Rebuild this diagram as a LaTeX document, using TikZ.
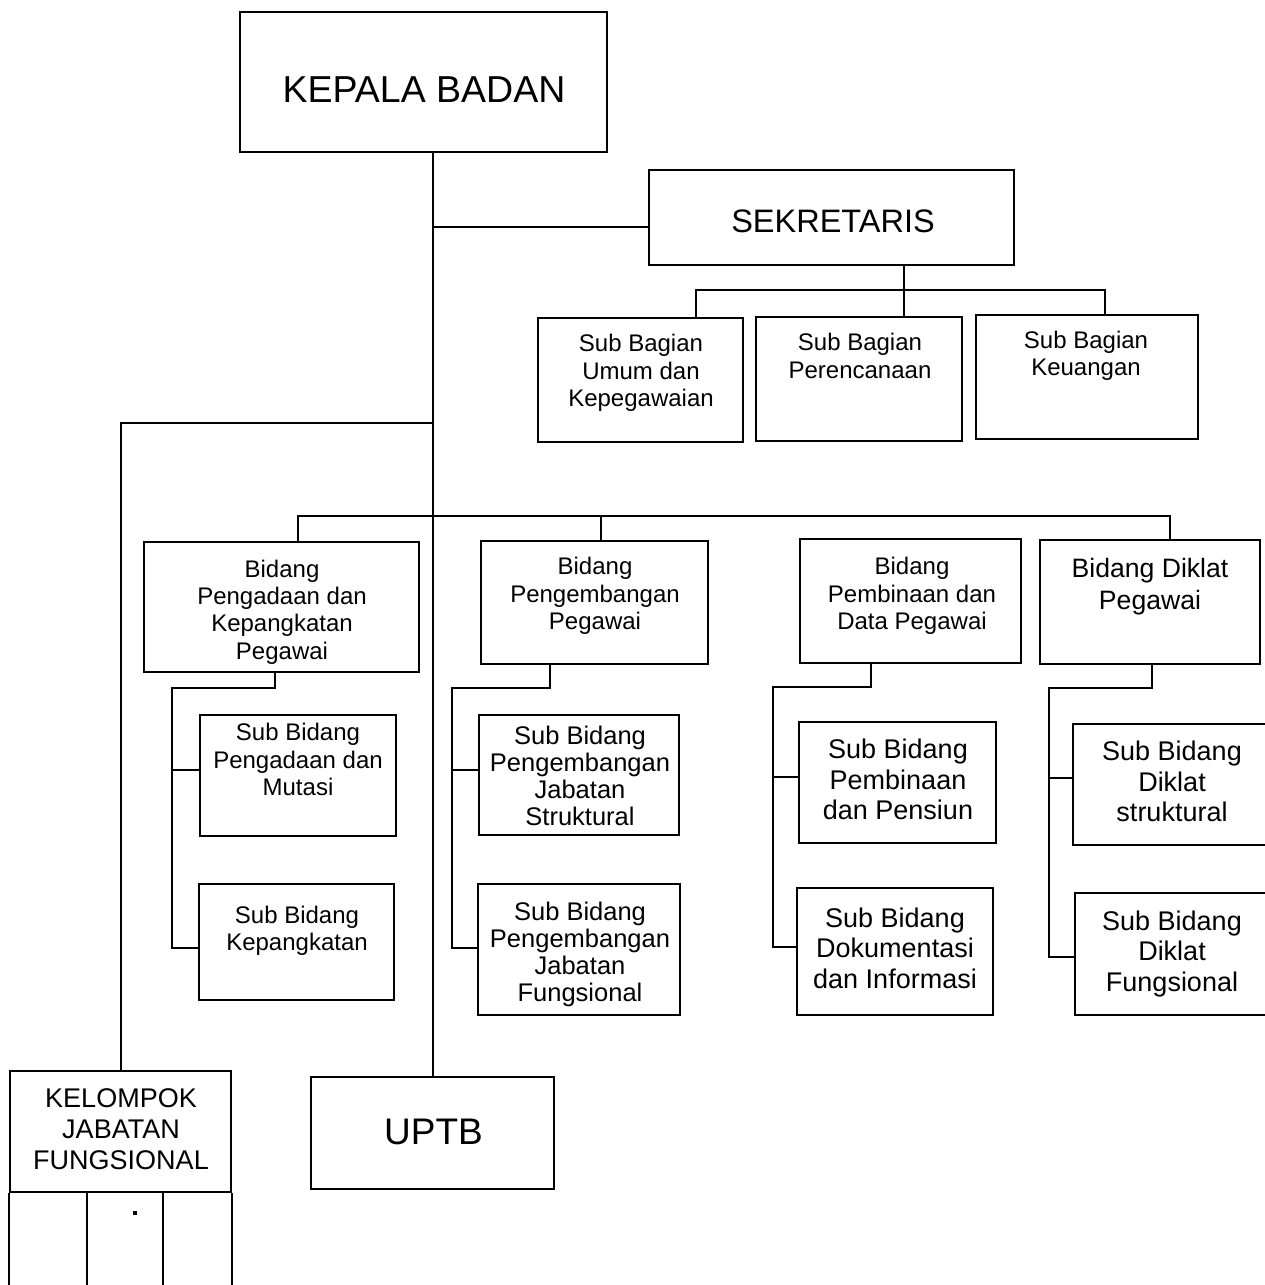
\documentclass[tikz,border=0pt]{standalone}
\usepackage{fontspec}
\setmainfont{Liberation Sans}
\newcommand\fsz[2]{\fontsize{#1}{#2}\selectfont}
\begin{document}
\begin{tikzpicture}[x=1pt,y=-1pt,
  box/.style={draw,line width=2pt,inner sep=0pt},
  conn/.style={line width=2pt},
  lbl/.style={align=center,inner sep=0pt},
  tA/.style={lbl,font=\fsz{24}{27.3}},
  tB/.style={lbl,font=\fsz{25.5}{27}},
  tC/.style={lbl,font=\fsz{27}{30.5}}]
\useasboundingbox (0,0) rectangle (1265,1285);
\clip (0,0) rectangle (1265,1285);
\fill[white] (0,0) rectangle (1265,1285);

% boxes
\node[box,minimum width=367pt,minimum height=140pt] (kb) at (423.5,82) {};
\node[lbl,font=\fsz{37.5}{40}] (kbt) at (424,90) {KEPALA BADAN};
\node[box,minimum width=365pt,minimum height=95pt] (sek) at (831.5,217.5) {};
\node[lbl,font=\fsz{32.5}{35}] (sekt) at (833,221) {SEKRETARIS};

\node[box,minimum width=205pt,minimum height=124pt] (sb1) at (640.5,380) {};
\node[tA] (sb1t) at (641,373) {Sub Bagian\\Umum dan\\Kepegawaian};
\node[box,minimum width=206pt,minimum height=124pt] (sb2) at (859,379) {};
\node[tA] (sb2t) at (860,356) {Sub Bagian\\Perencanaan};
\node[box,minimum width=222pt,minimum height=124pt] (sb3) at (1087,377) {};
\node[tA] (sb3t) at (1086,356) {Sub Bagian\\Keuangan};

\node[box,minimum width=275pt,minimum height=130pt] (b1) at (281.5,607) {};
\node[tA] (b1t) at (282,612) {Bidang\\Pengadaan dan\\Kepangkatan\\Pegawai};
\node[box,minimum width=227pt,minimum height=123pt] (b2) at (594.5,602.5) {};
\node[tA] (b2t) at (595,596) {Bidang\\Pengembangan\\Pegawai};
\node[box,minimum width=221pt,minimum height=124pt] (b3) at (910.5,601) {};
\node[tA] (b3t) at (912,596) {Bidang\\Pembinaan dan\\Data Pegawai};
\node[box,minimum width=220pt,minimum height=124pt] (b4) at (1150,602) {};
\node[lbl,font=\fsz{26.6}{32}] (b4t) at (1150,587) {Bidang Diklat\\Pegawai};

\node[box,minimum width=196pt,minimum height=121pt] (s1) at (298,775.5) {};
\node[tA] (s1t) at (298,759.5) {Sub Bidang\\Pengadaan dan\\Mutasi};
\node[box,minimum width=195pt,minimum height=116pt] (s2) at (296.5,942) {};
\node[tA] (s2t) at (297,931) {Sub Bidang\\Kepangkatan};
\node[box,minimum width=200pt,minimum height=120pt] (s3) at (579,775) {};
\node[tB] (s3t) at (580,775.5) {Sub Bidang\\Pengembangan\\Jabatan\\Struktural};
\node[box,minimum width=202pt,minimum height=131pt] (s4) at (579,949.5) {};
\node[tB] (s4t) at (580,954) {Sub Bidang\\Pengembangan\\Jabatan\\Fungsional};
\node[box,minimum width=197pt,minimum height=121pt] (s5) at (897.5,782.5) {};
\node[tC] (s5t) at (898,779.5) {Sub Bidang\\Pembinaan\\dan Pensiun};
\node[box,minimum width=196pt,minimum height=127pt] (s6) at (895,951.5) {};
\node[tC] (s6t) at (895,948) {Sub Bidang\\Dokumentasi\\dan Informasi};
\node[box,minimum width=202pt,minimum height=121pt] (s7) at (1174,784.5) {};
\node[tC] (s7t) at (1172,781.5) {Sub Bidang\\Diklat\\struktural};
\node[box,minimum width=202pt,minimum height=122pt] (s8) at (1176,954) {};
\node[tC] (s8t) at (1172,954) {Sub Bidang\\Diklat\\Fungsional};

\node[box,minimum width=221pt,minimum height=121pt] (kjf) at (120.5,1131.5) {};
\node[lbl,font=\fsz{27}{31}] (kjft) at (121,1129) {KELOMPOK\\JABATAN\\FUNGSIONAL};
\node[box,minimum width=243pt,minimum height=112pt] (uptb) at (432.5,1133) {};
\node[lbl,font=\fsz{37}{40}] (uptbt) at (433.5,1131.5) {UPTB};

% junction coordinates
\coordinate (jsek) at (432.5,227);
\coordinate (jkjf) at (432.5,423);
\coordinate (jbid) at (432.5,516);
\coordinate (sbus) at (903.5,290);
\coordinate (v1) at (172,688);
\coordinate (v2) at (452,688);
\coordinate (v3) at (773,687);
\coordinate (v4) at (1049,688);

% connectors
\draw[conn] (uptb.north |- kb.south) -- (uptb.north);
\draw[conn] (jsek) -- (jsek -| sek.west);
\draw[conn] (sbus |- sek.south) -- (sbus |- sb2.north);
\draw[conn] ([xshift=55.5pt]sb1.north) |- (sbus) -| ([xshift=18pt]sb3.north);
\draw[conn] (jkjf) -| (kjf.north);
\draw[conn] ([xshift=16.5pt]b1.north) |- (jbid) -| ([xshift=20pt]b4.north);
\draw[conn] ([xshift=6.5pt]b2.north) -- ++(0,-25);

\draw[conn] ([xshift=-6.5pt]b1.south) |- (v1) |- ([yshift=-6pt]s2.west);
\draw[conn] ([yshift=5.5pt]s1.west) -- ++(-28,0);
\draw[conn] ([xshift=-44.5pt]b2.south) |- (v2) |- ([yshift=1.5pt]s4.west);
\draw[conn] ([yshift=5pt]s3.west) -- ++(-27,0);
\draw[conn] ([xshift=-39.5pt]b3.south) |- (v3) |- ([yshift=4.5pt]s6.west);
\draw[conn] ([yshift=5.5pt]s5.west) -- ++(-26,0);
\draw[conn] ([xshift=2pt]b4.south) |- (v4) |- ([yshift=-3pt]s8.west);
\draw[conn] ([yshift=6.5pt]s7.west) -- ++(-24,0);

% lower columns of the functional group
\draw[conn] (kjf.south west) -- ++(0,110);
\draw[conn] ([xshift=-33.5pt]kjf.south) -- ++(0,110);
\draw[conn] ([xshift=42.5pt]kjf.south) -- ++(0,110);
\draw[conn] (kjf.south east) -- ++(0,110);
\fill (133,1211) rectangle (137,1215);
\end{tikzpicture}
\end{document}
